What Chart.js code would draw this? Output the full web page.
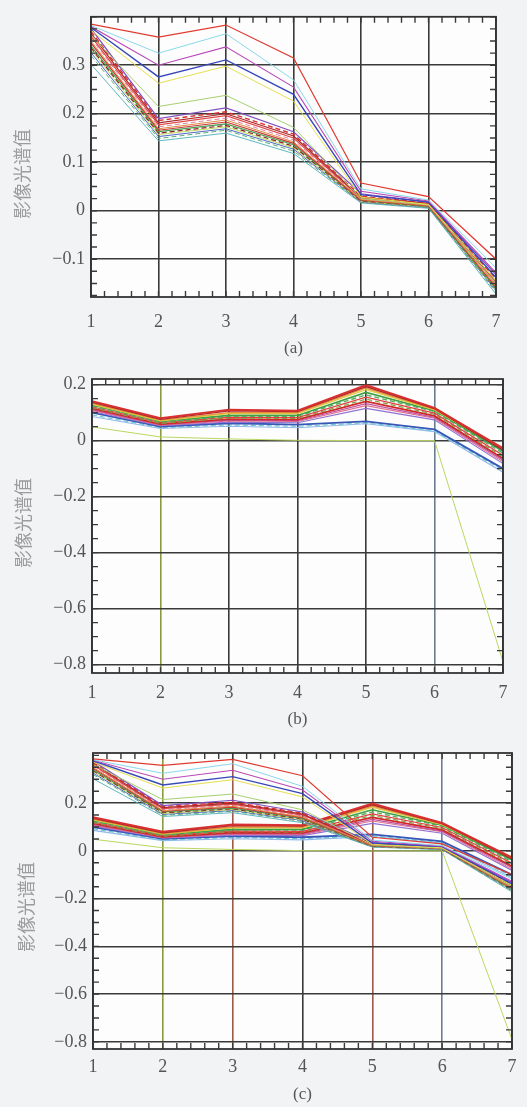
<!DOCTYPE html>
<html><head><meta charset="utf-8">
<script src="https://cdn.jsdelivr.net/npm/chart.js@4.4.0/dist/chart.umd.min.js"></script>
<style>
html,body{margin:0;padding:0;background:#f1f3f5;}
body{width:527px;height:1107px;position:relative;overflow:hidden;}
canvas{position:absolute;left:0;display:block;}
</style></head><body>
<canvas id="ca" width="527" height="362" style="top:0px"></canvas>
<canvas id="cb" width="527" height="372" style="top:362px"></canvas>
<canvas id="cc" width="527" height="373" style="top:734px"></canvas>
<script>
// ---- data ----
const bands = [1, 2, 3, 4, 5, 6, 7];
const yTicksA = [0.3, 0.2, 0.1, 0, -0.1];
const yTicksBC = [0.2, 0, -0.2, -0.4, -0.6, -0.8];
const yTitle = '影像光谱值';
const panelLabels = ['(a)', '(b)', '(c)'];

// group (a) spectra
const a01 = [0.385, 0.358, 0.383, 0.315, 0.057, 0.029, -0.100];
const a02 = [0.382, 0.325, 0.365, 0.270, 0.045, 0.022, -0.118];
const a03 = [0.380, 0.300, 0.338, 0.255, 0.040, 0.020, -0.128];
const a04 = [0.378, 0.276, 0.311, 0.240, 0.033, 0.018, -0.138];
const a05 = [0.372, 0.263, 0.298, 0.226, 0.028, 0.013, -0.145];
const a06 = [0.362, 0.215, 0.238, 0.172, 0.025, 0.012, -0.150];
const a07 = [0.376, 0.190, 0.212, 0.163, 0.035, 0.018, -0.132];
const a08 = [0.370, 0.186, 0.204, 0.158, 0.030, 0.016, -0.140];
const a09 = [0.366, 0.181, 0.200, 0.154, 0.028, 0.015, -0.146];
const a10 = [0.360, 0.177, 0.196, 0.150, 0.026, 0.013, -0.150];
const a11 = [0.356, 0.173, 0.191, 0.146, 0.025, 0.012, -0.152];
const a12 = [0.350, 0.169, 0.187, 0.142, 0.023, 0.011, -0.155];
const a13 = [0.346, 0.166, 0.183, 0.139, 0.022, 0.010, -0.157];
const a14 = [0.340, 0.163, 0.179, 0.136, 0.021, 0.009, -0.160];
const a15 = [0.336, 0.160, 0.176, 0.133, 0.020, 0.009, -0.161];
const a16 = [0.332, 0.157, 0.173, 0.130, 0.019, 0.008, -0.163];
const a17 = [0.326, 0.153, 0.169, 0.127, 0.018, 0.007, -0.165];
const a18 = [0.320, 0.149, 0.166, 0.123, 0.017, 0.006, -0.168];
const a19 = [0.302, 0.144, 0.160, 0.118, 0.016, 0.005, -0.172];

// group (b) spectra
const b01 = [0.141, 0.080, 0.110, 0.107, 0.198, 0.117, -0.028];
const b02 = [0.137, 0.076, 0.106, 0.104, 0.193, 0.114, -0.034];
const b03 = [0.133, 0.073, 0.100, 0.100, 0.188, 0.112, -0.026];
const b04 = [0.130, 0.071, 0.097, 0.097, 0.182, 0.110, -0.030];
const b05 = [0.127, 0.069, 0.090, 0.090, 0.172, 0.107, -0.038];
const b06 = [0.124, 0.066, 0.087, 0.087, 0.163, 0.104, -0.045];
const b07 = [0.121, 0.064, 0.084, 0.082, 0.155, 0.098, -0.052];
const b08 = [0.118, 0.061, 0.081, 0.079, 0.148, 0.094, -0.058];
const b09 = [0.115, 0.059, 0.077, 0.075, 0.140, 0.088, -0.064];
const b10 = [0.111, 0.057, 0.073, 0.071, 0.132, 0.083, -0.070];
const b11 = [0.108, 0.055, 0.070, 0.068, 0.125, 0.080, -0.076];
const b12 = [0.104, 0.053, 0.066, 0.064, 0.115, 0.074, -0.082];
const b13 = [0.100, 0.050, 0.062, 0.057, 0.069, 0.040, -0.100];
const b14 = [0.092, 0.046, 0.056, 0.051, 0.063, 0.035, -0.106];
const b15 = [0.086, 0.043, 0.051, 0.046, 0.060, 0.032, -0.113];
const b16 = [0.049, 0.013, 0.006, 0.001, 0.000, 0.000, -0.790];

const seriesA = [a01,a02,a03,a04,a05,a06,a07,a08,a09,a10,a11,a12,a13,a14,a15,a16,a17,a18,a19];
const seriesB = [b01,b02,b03,b04,b05,b06,b07,b08,b09,b10,b11,b12,b13,b14,b15,b16];

// ---- styles ----
const colorsA = ['#e03a30','#8ad8ea','#b848b8','#3848b8','#e4e050','#a8d070','#8050c0','#d83030','#a82828','#e04848','#e080a0','#e08840','#c83838','#48a050','#902020','#c0d860','#5068c8','#60b070','#60b8c0'];
const dashA   = [0,0,0,0,0,0,0,1,0,0,1,0,0,0,1,0,0,1,0];
const widthA  = [1.2,1,1.1,1.4,1,1,1.2,1.4,1.2,1.2,1,1,1.2,1.2,1.2,1,1,1,1];
const colorsB = ['#d83030','#a82828','#e89040','#e0d040','#40a048','#58b060','#e04040','#80a040','#d02828','#c050a0','#e07090','#9070d0','#3858b8','#70c8d8','#90b8e8','#b8d860'];
const dashB   = [0,0,0,0,0,1,0,1,0,0,0,0,0,1,0,0];
const widthB  = [2,1.4,1.4,1.4,1.6,1.4,1.2,1.2,1.8,1.2,1.1,1.1,1.8,1.2,1.1,1];

function mkSets(list, colors, dash, width){
  return list.map((vals,k)=>({
    data: bands.map((b,i)=>({x:b, y:vals[i]})),
    borderColor: colors[k],
    borderWidth: width[k],
    borderDash: dash[k] ? [5,3] : [],
    pointRadius: 0, fill:false, tension:0
  }));
}

function fmt(v){
  if (Math.abs(v) < 1e-9) return '0';
  return (v < 0 ? '\u2212' : '') + Math.abs(v).toFixed(1);
}

const frameMinor = {
  id:'frameMinor',
  beforeDraw(chart, args, o){
    const {ctx, chartArea:a} = chart;
    ctx.save(); ctx.fillStyle = '#fdfdfd';
    ctx.fillRect(a.left, a.top, a.right-a.left, a.bottom-a.top); ctx.restore();
  },
  afterDraw(chart, args, o){
    const {ctx, chartArea:a, scales:{x, y}} = chart;
    ctx.save();
    ctx.strokeStyle = '#3a3a3a'; ctx.lineWidth = 1.4;
    ctx.beginPath();
    const nx = Math.round((x.max - x.min)/o.xMinor);
    for (let i=0;i<=nx;i++){
      const px = x.getPixelForValue(x.min + i*o.xMinor);
      ctx.moveTo(px, a.bottom); ctx.lineTo(px, a.bottom-6);
      ctx.moveTo(px, a.top); ctx.lineTo(px, a.top+6);
    }
    const s = Math.ceil(y.min/o.yMinor - 1e-6);
    const e = Math.floor(y.max/o.yMinor + 1e-6);
    for (let i=s;i<=e;i++){
      const py = y.getPixelForValue(i*o.yMinor);
      ctx.moveTo(a.left, py); ctx.lineTo(a.left+6, py);
      ctx.moveTo(a.right, py); ctx.lineTo(a.right-6, py);
    }
    ctx.stroke();
    ctx.lineWidth = 1.8; ctx.strokeStyle = '#333';
    ctx.strokeRect(a.left, a.top, a.right-a.left, a.bottom-a.top);
    ctx.translate(o.titleX, o.titleY); ctx.rotate(-Math.PI/2);
    ctx.font = '18px "Noto Sans CJK SC"'; ctx.fillStyle = '#9c9c9c';
    ctx.textAlign = 'center'; ctx.textBaseline = 'middle';
    ctx.fillText(yTitle, 0, 0);
    ctx.restore();
  }
};

function makeChart(id, p){
  new Chart(document.getElementById(id), {
    type:'line',
    data:{ datasets: p.sets },
    plugins:[frameMinor],
    options:{
      responsive:false, animation:false,
      layout:{ padding:{ top:p.top, right:p.right, left:0, bottom:0 } },
      plugins:{ legend:{display:false}, tooltip:{enabled:false},
        frameMinor:{ xMinor:0.2, yMinor:p.yMinor, titleX:p.titleX, titleY:p.titleY } },
      scales:{
        x:{ type:'linear', min:1, max:7,
          afterBuildTicks: s => { s.ticks = bands.map(v=>({value:v})); },
          afterFit: s => { s.height = p.xh; },
          grid:{ drawTicks:false, lineWidth:1.6, color: c => p.vcol[c.index] || '#3a3a3a' },
          border:{ display:false },
          ticks:{ padding:p.xpad, color:'#555', font:{ family:'"Liberation Serif"', size:18 }, callback: v => String(v) },
          title:{ display:true, text:p.label, color:'#555', padding:{top:0,bottom:p.lpad}, font:{ family:'"Liberation Serif"', size:17 } }
        },
        y:{ type:'linear', min:p.ymin, max:p.ymax,
          afterBuildTicks: s => { s.ticks = p.yt.map(v=>({value:v})); },
          afterFit: s => { s.width = p.left; },
          grid:{ drawTicks:false, lineWidth:1.6, color:'#3a3a3a' },
          border:{ display:false },
          ticks:{ padding:6, color:'#555', font:{ family:'"Liberation Serif"', size:18 }, callback: v => fmt(v) }
        }
      }
    }
  });
}

const setsA = mkSets(seriesA, colorsA, dashA, widthA);
const setsB = mkSets(seriesB, colorsB, dashB, widthB);

makeChart('ca', { sets:setsA, top:7, right:31, left:91, xh:65, xpad:14, lpad:3,
  ymin:-0.178, ymax:0.4, yt:yTicksA, yMinor:0.025, label:panelLabels[0],
  titleX:22, titleY:174, vcol:[] });
makeChart('cb', { sets:setsB, top:17, right:24, left:92, xh:61, xpad:9, lpad:4,
  ymin:-0.83, ymax:0.22, yt:yTicksBC, yMinor:0.05, label:panelLabels[1],
  titleX:23, titleY:161, vcol:['#3a3a3a','#8a9a40','#3a3a3a','#3a3a3a','#3a3a3a','#6a7d90','#3a3a3a'] });
makeChart('cc', { sets:mkSets(seriesA, colorsA, dashA, widthA).concat(mkSets(seriesB, colorsB, dashB, widthB)),
  top:19, right:15, left:93, xh:58, xpad:7, lpad:2,
  ymin:-0.83, ymax:0.41, yt:yTicksBC, yMinor:0.05, label:panelLabels[2],
  titleX:26, titleY:173, vcol:['#3a3a3a','#8a9a40','#a0584a','#3a3a3a','#a0584a','#6a7d90','#3a3a3a'] });
</script>
</body></html>
